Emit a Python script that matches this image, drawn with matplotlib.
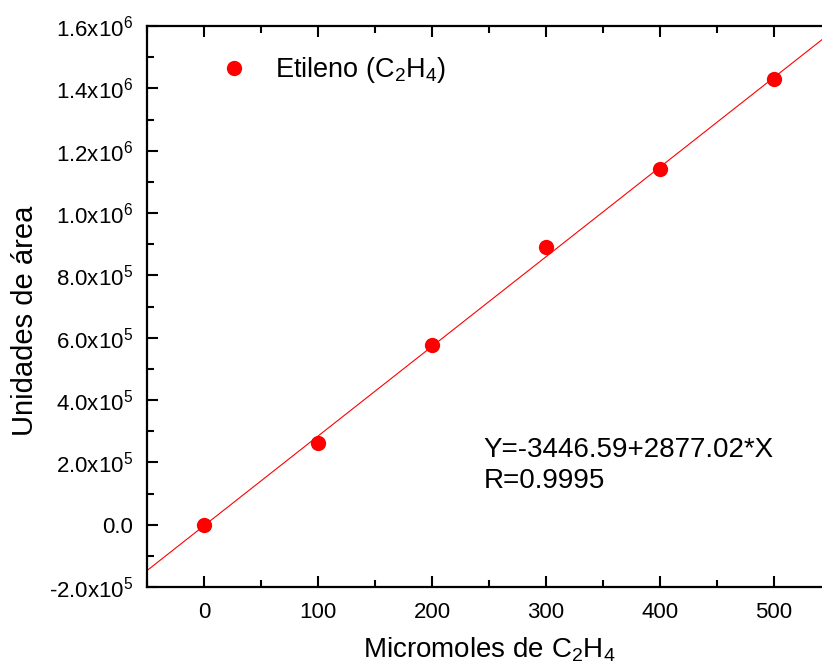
import matplotlib
matplotlib.use('Agg')
import matplotlib.pyplot as plt
import numpy as np
from matplotlib.ticker import MultipleLocator, FuncFormatter

plt.rcParams['font.family'] = ['Liberation Sans', 'DejaVu Sans']
plt.rcParams['mathtext.fontset'] = 'custom'
plt.rcParams['mathtext.rm'] = 'Liberation Sans'
plt.rcParams['mathtext.it'] = 'Liberation Sans'

# datos
micromoles = [0, 100, 200, 300, 400, 500]
area = [0, 2.63e5, 5.78e5, 8.9e5, 1.14e6, 1.43e6]
intercept = -3446.59
slope = 2877.02

fig = plt.figure(figsize=(8.22, 6.72), dpi=100)
ax = fig.add_axes([147 / 822, 1 - 587 / 672, (831 - 147) / 822, (587 - 26) / 672])

x_fit = np.array([-50, 550])
ax.plot(x_fit, intercept + slope * x_fit, color='red', lw=0.8, zorder=2)
ax.plot(micromoles, area, 'o', color='red', ms=11, mec='none',
        label='Etileno (C$_2$H$_4$)', zorder=3)

ax.set_xlim(-50, 550)
ax.set_ylim(-2e5, 1.6e6)
ax.xaxis.set_major_locator(MultipleLocator(100))
ax.xaxis.set_minor_locator(MultipleLocator(50))
ax.yaxis.set_major_locator(MultipleLocator(2e5))
ax.yaxis.set_minor_locator(MultipleLocator(1e5))


def fmt_y(v, pos):
    if abs(v) < 1:
        return '0.0'
    e = int(np.floor(np.log10(abs(v))))
    m = v / 10 ** e
    return r'%.1fx10$^{%d}$' % (m, e)


ax.yaxis.set_major_formatter(FuncFormatter(fmt_y))

for s in ax.spines.values():
    s.set_linewidth(1.6)
ax.tick_params(which='major', direction='in', length=8, width=1.5,
               labelsize=16, top=True)
ax.tick_params(which='minor', direction='in', length=5, width=1.5, top=True)
ax.tick_params(axis='x', which='both', top=True)
ax.tick_params(axis='x', which='major', pad=11)
ax.tick_params(axis='y', which='major', pad=10)

ax.set_xlabel('Micromoles de C$_2$H$_4$', fontsize=20, labelpad=9)
ax.set_ylabel('Unidades de área', fontsize=21)
ax.yaxis.set_label_coords(-0.158, 0.474)

ax.text(245, 2.82e5, 'Y=-3446.59+2877.02*X\nR=0.9995', fontsize=20,
        ha='left', va='top', linespacing=1.25)

ax.legend(loc='upper left', frameon=False, fontsize=19.5, handletextpad=0.5,
          borderaxespad=0.3, bbox_to_anchor=(0.06, 0.982), numpoints=1)

fig.savefig('out.png', dpi=100)
